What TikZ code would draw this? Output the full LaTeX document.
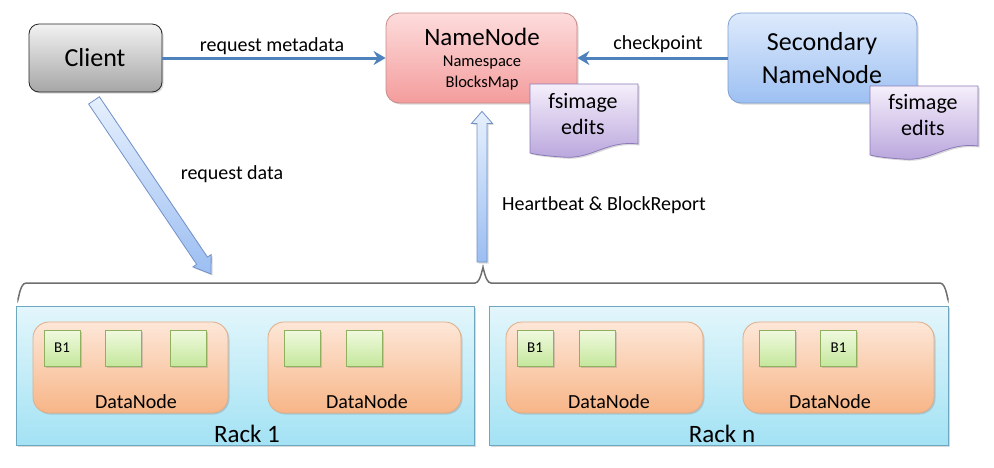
\documentclass[tikz,border=0pt]{standalone}
\usepackage{fontspec}
\setmainfont{Carlito}
\usetikzlibrary{arrows.meta,calc,shadows}
\definecolor{lineblue}{HTML}{4F81BD}
\definecolor{clTop}{HTML}{F2F2F2}\definecolor{clBot}{HTML}{A6A6A6}
\definecolor{nnTop}{HTML}{FDDCDC}\definecolor{nnBot}{HTML}{F49C9C}\definecolor{nnBd}{HTML}{C88A8A}
\definecolor{snTop}{HTML}{DEEAFC}\definecolor{snBot}{HTML}{9DC0F2}\definecolor{snBd}{HTML}{7E9FD0}
\definecolor{dcTop}{HTML}{F5EFFB}\definecolor{dcBot}{HTML}{B8A4DC}\definecolor{dcBd}{HTML}{8C7AB8}
\definecolor{rkTop}{HTML}{E3F6FB}\definecolor{rkBot}{HTML}{A3E2F4}\definecolor{rkBd}{HTML}{6EA8C0}
\definecolor{dnTop}{HTML}{FDE7D8}\definecolor{dnBot}{HTML}{F7B587}\definecolor{dnBd}{HTML}{E2AC86}
\definecolor{bkTop}{HTML}{F0FADF}\definecolor{bkBot}{HTML}{C5E79C}\definecolor{bkBd}{HTML}{90B060}
\definecolor{baTop}{HTML}{E6F0FD}\definecolor{baBot}{HTML}{9CBEF2}\definecolor{baBd}{HTML}{7291C8}
\definecolor{braceGray}{HTML}{6E6E6E}
\begin{document}
\begin{tikzpicture}[x=1pt,y=-1pt,
  shad/.style={drop shadow={shadow xshift=1.5pt,shadow yshift=-1.5pt,opacity=0.3}},
  box/.style={rectangle,inner sep=0pt,line width=0.8pt},
  clientbox/.style={box,shad,rounded corners=10pt,draw=black!85,top color=clTop,bottom color=clBot},
  nnbox/.style={box,shad,rounded corners=13pt,draw=nnBd,top color=nnTop,bottom color=nnBot},
  snbox/.style={box,shad,rounded corners=13pt,draw=snBd,top color=snTop,bottom color=snBot},
  docshape/.style={line width=0.8pt,draw=dcBd,top color=dcTop,bottom color=dcBot,shad},
  rackbox/.style={box,shad,draw=rkBd,top color=rkTop,bottom color=rkBot},
  dnbox/.style={box,shad,rounded corners=16pt,draw=dnBd,top color=dnTop,bottom color=dnBot},
  blk/.style={box,shad,minimum width=36pt,minimum height=36pt,draw=bkBd,top color=bkTop,bottom color=bkBot,font=\fontsize{15}{17}\selectfont},
  txt/.style={inner sep=0pt,text=black},
  bigtxt/.style={txt,font=\fontsize{26}{28}\selectfont},
  midtxt/.style={txt,font=\fontsize{20}{22}\selectfont},
  doctxt/.style={txt,font=\fontsize{22}{24}\selectfont},
  smalltxt/.style={txt,font=\fontsize{16.5}{18}\selectfont},
  racktxt/.style={txt,font=\fontsize{25}{27}\selectfont},
  linearrow/.style={draw=lineblue,line width=3pt,-{Stealth[length=12pt,width=14pt]}},
  blockarrow/.style={line width=0.8pt,draw=baBd,top color=baTop,bottom color=baBot,shad},
  bracestyle/.style={draw=braceGray,line width=1.5pt}
]
\useasboundingbox (0,0) rectangle (994,467);

% ---- top row
\node[clientbox,minimum width=133pt,minimum height=68pt] (client) at (95.5,58) {};
\node[bigtxt] (clientlbl) at (95,58) {Client};

\node[nnbox,minimum width=191pt,minimum height=90pt] (nn) at (481.5,58) {};
\node[txt,font=\fontsize{25}{27}\selectfont] (nnlbl) at (482,37) {NameNode};
\node[smalltxt] (nsl) at (482,63) {Namespace};
\node[smalltxt] (bml) at (482,83) {BlocksMap};

\node[snbox,minimum width=189pt,minimum height=90pt] (sn) at (822.5,58) {};
\node[bigtxt] (snl1) at (822,44) {Secondary};
\node[bigtxt] (snl2) at (822,75) {NameNode};

% documents
\draw[docshape] (530,84) -- (638,84) -- (638,144)
  .. controls (606,140) and (592,160) .. (562,157)
  .. controls (548,156) and (538,155) .. (530,153) -- cycle;
\node[doctxt] (fs1) at (583,103) {fsimage};
\node[doctxt] (ed1) at (583,127) {edits};

\draw[docshape] (870,86) -- (978,86) -- (978,146)
  .. controls (946,142) and (932,162) .. (902,159)
  .. controls (888,158) and (878,157) .. (870,155) -- cycle;
\node[doctxt] (fs2) at (923,104) {fsimage};
\node[doctxt] (ed2) at (923,128) {edits};

% line arrows
\draw[linearrow] (client.east) -- (nn.west);
\node[midtxt] (rqm) at (272,46) {request metadata};
\draw[linearrow] (sn.west) -- (nn.east);
\node[midtxt] (ckp) at (658,44) {checkpoint};

% ---- racks
\node[rackbox,minimum width=458pt,minimum height=139pt] (rack1) at (245,375.5) {};
\node[rackbox,minimum width=459pt,minimum height=139pt] (rackn) at (718.5,375.5) {};

\node[dnbox,minimum width=195pt,minimum height=91pt] (dn1) at (130.5,367.5) {};
\node[dnbox,minimum width=193pt,minimum height=91pt] (dn2) at (364.5,367.5) {};
\node[dnbox,minimum width=197pt,minimum height=91pt] (dn3) at (604.5,367.5) {};
\node[dnbox,minimum width=191pt,minimum height=91pt] (dn4) at (838.5,367.5) {};

\node[blk] (b11) at (62,348) {B1};
\node[blk] (b12) at (123,348) {};
\node[blk] (b13) at (188,348) {};
\node[blk] (b21) at (302,348) {};
\node[blk] (b22) at (364,348) {};
\node[blk] (b31) at (535,348) {B1};
\node[blk] (b32) at (597,348) {};
\node[blk] (b41) at (777,348) {};
\node[blk] (b42) at (838.5,348) {B1};

\node[midtxt] (dnl1) at (136,402) {DataNode};
\node[midtxt] (dnl2) at (367,402) {DataNode};
\node[midtxt] (dnl3) at (609,402) {DataNode};
\node[midtxt] (dnl4) at (830,402) {DataNode};

\node[racktxt] (rk1l) at (247,434) {Rack 1};
\node[racktxt] (rknl) at (722,434) {Rack n};

% ---- brace
\coordinate (brL) at (18,298);
\coordinate (brR) at (948,298);
\coordinate (brT) at (483,269);
\draw[bracestyle] (brL) to[out=-90,in=180] (26,283) -- (475,283)
  to[out=0,in=90] (brT) to[out=90,in=180] (491,283) -- (940,283) to[out=0,in=-90] (brR);

% ---- block arrows
\coordinate (dtail) at ($(client.south)+(-1.5,8)$);
\coordinate (dtip) at (211,274);
\coordinate (dhb) at ($(dtip)!16pt!(dtail)$);
\draw[blockarrow] ($(dtail)!6.5pt!90:(dtip)$) -- ($(dhb)!6.5pt!-90:(dtail)$)
  -- ($(dhb)!11pt!-90:(dtail)$) -- (dtip) -- ($(dhb)!11pt!90:(dtail)$)
  -- ($(dhb)!6.5pt!90:(dtail)$) -- ($(dtail)!6.5pt!-90:(dtip)$) -- cycle;
\node[midtxt] (rqd) at (232,174) {request data};

\coordinate (vtail) at (482,262);
\coordinate (vtip) at ($(nn.south)+(0.5,8)$);
\coordinate (vhb) at ($(vtip)!12pt!(vtail)$);
\draw[blockarrow] ($(vtail)!5pt!90:(vtip)$) -- ($(vhb)!5pt!-90:(vtail)$)
  -- ($(vhb)!10.5pt!-90:(vtail)$) -- (vtip) -- ($(vhb)!10.5pt!90:(vtail)$)
  -- ($(vhb)!5pt!90:(vtail)$) -- ($(vtail)!5pt!-90:(vtip)$) -- cycle;
\node[midtxt,anchor=west] (hbl) at (502,205) {Heartbeat \& BlockReport};
\end{tikzpicture}
\end{document}
